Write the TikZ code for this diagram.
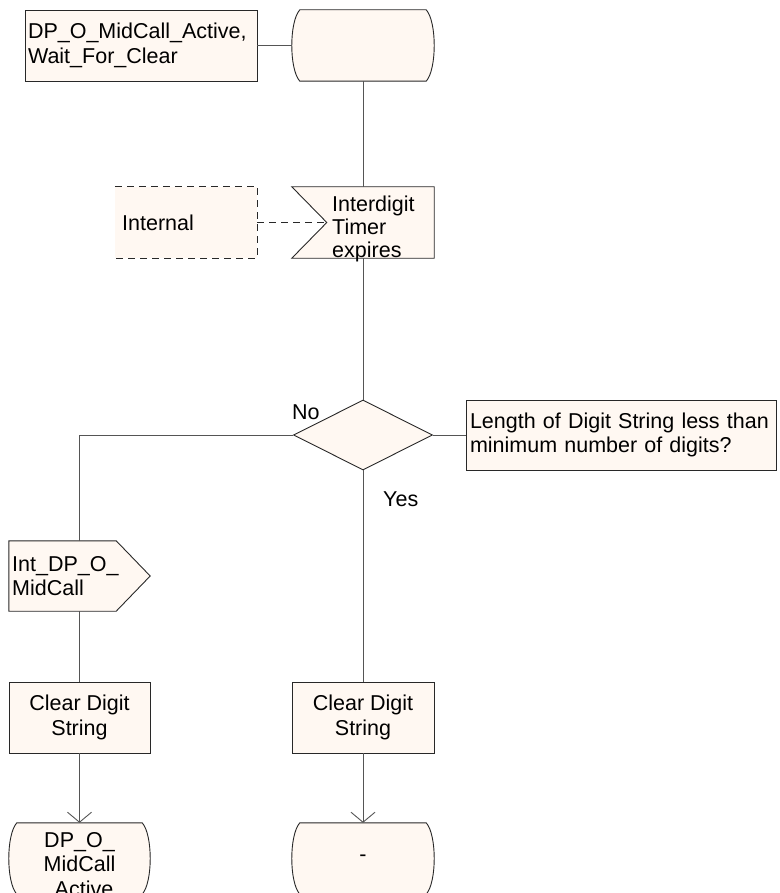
\documentclass[tikz,border=0pt]{standalone}
\usepackage{fontspec}
\setmainfont{Liberation Sans}
\usetikzlibrary{arrows.meta,shapes.geometric}
\definecolor{shapefill}{RGB}{255,248,242}
\definecolor{edgecol}{RGB}{40,40,40}
\definecolor{wirecol}{RGB}{85,85,85}
\newcommand\stateoutline[1]{%
  \draw[outl] ([xshift=8pt]#1.north west) -- ([xshift=-8pt]#1.north east)
    .. controls +(10.7,12) and +(10.7,-12) .. ([xshift=-8pt]#1.south east)
    -- ([xshift=8pt]#1.south west)
    .. controls +(-10.7,-12) and +(-10.7,12) .. ([xshift=8pt]#1.north west) -- cycle;}
\begin{document}
\begin{tikzpicture}[x=1pt,y=-1pt,
  every node/.style={font=\fontsize{21.5}{24.5}\selectfont},
  outl/.style={draw=edgecol, fill=shapefill, line width=0.9pt},
  rectbox/.style={outl, rectangle, inner sep=0pt},
  frame/.style={rectangle, inner sep=0pt, draw=none},
  wire/.style={draw=wirecol, line width=0.9pt},
  arrowwire/.style={wire, -{Straight Barb[length=10pt,width=24pt,line width=0.9pt]}},
  dashwire/.style={draw=edgecol, line width=0.9pt, dash pattern=on 7pt off 5pt},
  lbl/.style={inner sep=0pt}]
\useasboundingbox (0,0) rectangle (779,893);

% shapes
\node[rectbox, minimum width=232pt, minimum height=71pt, text width=226pt, align=left] (title) at (141,45.5) {DP\_O\_MidCall\_Active,\\Wait\_For\_Clear};
\node[frame, minimum width=142pt, minimum height=71pt] (st1) at (363,45.5) {};
\stateoutline{st1}

\node[frame, minimum width=142pt, minimum height=71pt] (ir) at (363,222.5) {};
\draw[outl] (ir.north west) -- (ir.north east) -- (ir.south east) -- (ir.south west) -- ([xshift=35pt]ir.west) -- cycle;
\coordinate (notch) at ([xshift=35pt]ir.west);

\node[frame, minimum width=142pt, minimum height=71pt] (intl) at (186,222.5) {};
\fill[shapefill] (intl.north west) rectangle (intl.south east);
\draw[dashwire] (intl.north west) -- (intl.north east) -- (intl.south east) -- (intl.south west);

\node[shape=diamond, outl, inner sep=0pt, minimum width=139pt, minimum height=70pt] (dm) at (363,435) {};
\node[rectbox, minimum width=310pt, minimum height=70pt, text width=302pt, align=left] (cm) at (621,435) {Length of Digit String less than\\minimum number of digits?};

\node[frame, minimum width=141pt, minimum height=70pt] (send) at (79.5,576) {};
\draw[outl] (send.north west) -- ([xshift=-34pt]send.north east) -- (send.east) -- ([xshift=-34pt]send.south east) -- (send.south west) -- cycle;

\node[rectbox, minimum width=141pt, minimum height=71pt, align=center] (tbl) at (79.5,717.5) {Clear Digit\\String};
\node[rectbox, minimum width=142pt, minimum height=71pt, align=center] (tbr) at (363,717.5) {Clear Digit\\String};

\node[frame, minimum width=141pt, minimum height=71pt] (stl) at (79.5,858.5) {};
\stateoutline{stl}
\node[frame, minimum width=142pt, minimum height=71pt] (str) at (363,858.5) {};
\stateoutline{str}

% texts
\node[lbl, anchor=north west, align=left, font=\fontsize{21.5}{23}\selectfont] (irtext) at (332,196) {Interdigit\\Timer\\expires};
\node[lbl, anchor=west] (intltext) at (122,222.5) {Internal};
\node[lbl, anchor=west, align=left] (sendtext) at (12,576) {Int\_DP\_O\_\\MidCall};
\node[lbl, anchor=north, align=center] (stltext) at (79.5,832) {DP\_O\_\\MidCall\\\hspace*{9pt}Active};
\node[lbl] (strtext) at (str) {-};
\node[lbl, anchor=west] (nolbl) at (292,412) {No};
\node[lbl, anchor=west] (yeslbl) at (383,499) {Yes};

% connectors
\draw[wire] (title.east) -- (st1.west);
\draw[wire] (st1.south) -- (ir.north);
\draw[dashwire] (intl.east) -- (notch);
\draw[wire] (ir.south) -- (dm.north);
\draw[wire] (dm.east) -- (cm.west);
\draw[wire] (dm.west) -| (send.north);
\draw[wire] (send.south) -- (tbl.north);
\draw[arrowwire] (tbl.south) -- (stl.north);
\draw[wire] (dm.south) -- (tbr.north);
\draw[arrowwire] (tbr.south) -- (str.north);
\end{tikzpicture}
\end{document}
